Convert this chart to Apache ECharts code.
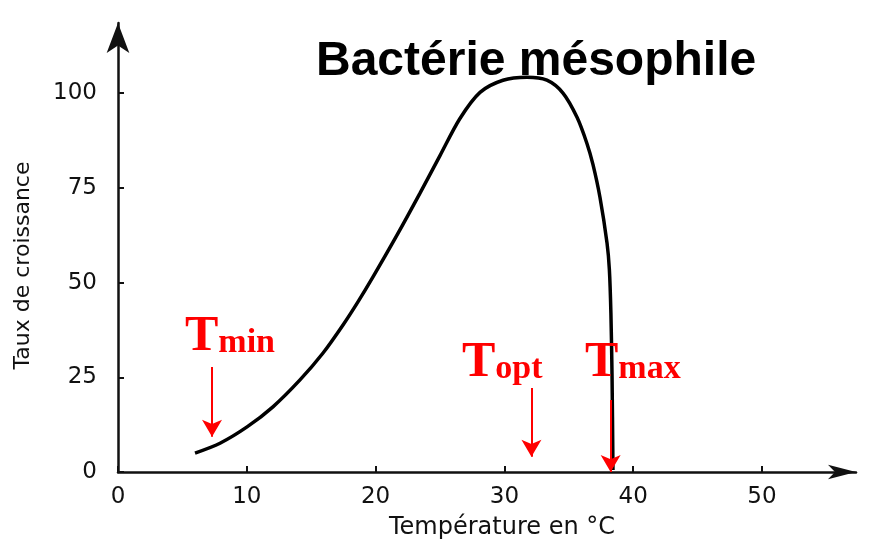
<!DOCTYPE html>
<html>
<head>
<meta charset="utf-8">
<script src="https://cdn.jsdelivr.net/npm/echarts@6/dist/echarts.min.js"></script>
<style>
  html, body { margin: 0; padding: 0; background: #fff; }
  #chart { width: 871px; height: 540px; }
</style>
</head>
<body>
<div id="chart"></div>
<script>
// Growth curve of a mesophilic bacterium versus temperature
const temperature = [5.98, 7.92, 10.02, 12.03, 14.13, 15.92, 17.47, 18.63, 19.8, 21.66, 23.45, 25.0, 26.55, 28.11, 29.89, 31.75, 33.3, 34.55, 35.64, 36.41, 36.88, 37.42, 37.97, 38.15, 38.27, 38.36, 38.43];
const growth      = [5.0, 7.6, 11.9, 17.2, 24.3, 31.4, 38.8, 44.9, 51.5, 62.5, 73.6, 83.5, 93.3, 100.2, 103.4, 104.2, 103.4, 100.0, 93.6, 86.7, 81.1, 72.5, 60.4, 53.5, 42.0, 25.0, 0.5];

const xTicks = [0, 10, 20, 30, 40, 50];
const yTicks = [0, 25, 50, 75, 100];

// Cardinal temperatures: arrow position (x), arrow start and arrow end (growth units)
const cardinalNames = ['min', 'opt', 'max'];
const cardinalX     = [7.3, 32.1, 38.25];
const arrowFrom     = [27.7, 22.2, 19.0];
const arrowTo       = [9.3, 4.0, 0.0];
// Label anchors (bottom-left of each "T" label)
const labelX        = [5.2, 26.7, 36.26];
const labelY        = [29.5, 22.7, 22.7];

const RED = '#ff0000';
const INK = '#111';
const axisFont = 'DejaVu Sans';

const curve = temperature.map((t, i) => [t, growth[i]]);

const arrowLines = cardinalNames.map((n, i) => [
  { coord: [cardinalX[i], arrowFrom[i]] },
  { coord: [cardinalX[i], arrowTo[i]] }
]);

const labelPoints = cardinalNames.map((n, i) => ({ value: [labelX[i], labelY[i]], name: n }));

const chart = echarts.init(document.getElementById('chart'), null, { renderer: 'canvas' });

chart.setOption({
  animation: false,
  backgroundColor: '#fff',
  title: {
    text: 'Bactérie mésophile',
    left: 316,
    top: 38,
    padding: 0,
    textStyle: {
      fontFamily: 'Liberation Sans',
      fontWeight: 'bold',
      fontSize: 48,
      color: '#000'
    }
  },
  grid: { left: 118, right: 15, top: 23, bottom: 68, containLabel: false, outerBoundsMode: 'none' },
  xAxis: {
    type: 'value',
    min: 0,
    max: 57.3,
    interval: 10,
    name: 'Température en °C',
    nameLocation: 'middle',
    nameGap: 44,
    nameTextStyle: { fontFamily: axisFont, fontSize: 24, color: INK, padding: [0, 0, 0, 30] },
    splitLine: { show: false },
    axisLine: {
      show: true,
      symbol: ['none', 'arrow'],
      symbolSize: [11, 28],
      lineStyle: { color: INK, width: 2.5 }
    },
    axisTick: { show: true, inside: true, length: 6, customValues: xTicks, lineStyle: { color: INK, width: 2 } },
    axisLabel: { customValues: xTicks, margin: 14, fontFamily: axisFont, fontSize: 23, color: INK }
  },
  yAxis: {
    type: 'value',
    min: 0,
    max: 118.5,
    interval: 25,
    name: 'Taux de croissance',
    nameLocation: 'middle',
    nameGap: 84,
    nameRotate: 90,
    nameTextStyle: { fontFamily: axisFont, fontSize: 22, color: INK, padding: [0, 36, 0, 0] },
    splitLine: { show: false },
    axisLine: {
      show: true,
      symbol: ['none', 'arrow'],
      symbolSize: [17, 30],
      lineStyle: { color: INK, width: 2.5 }
    },
    axisTick: { show: true, inside: true, length: 6, customValues: yTicks, lineStyle: { color: INK, width: 2 } },
    axisLabel: { customValues: yTicks, margin: 21, fontFamily: axisFont, fontSize: 23, color: INK }
  },
  series: [
    {
      name: 'croissance',
      type: 'line',
      data: curve,
      smooth: 0.3,
      showSymbol: false,
      symbol: 'none',
      lineStyle: { color: '#000', width: 3.5 },
      z: 3
    },
    {
      name: 'flèches',
      type: 'line',
      data: [],
      markLine: {
        silent: true,
        symbol: ['none', 'arrow'],
        symbolSize: [15, 17],
        label: { show: false },
        lineStyle: { color: RED, width: 2, type: 'solid' },
        data: arrowLines
      },
      z: 4
    },
    {
      name: 'températures cardinales',
      type: 'scatter',
      data: labelPoints,
      symbolSize: 0,
      silent: true,
      itemStyle: { opacity: 1 },
      label: {
        show: true,
        position: [0, 0],
        align: 'left',
        verticalAlign: 'bottom',
        formatter: p => '{t|T}{s|' + p.name + '}',
        rich: {
          t: {
            fontFamily: 'Liberation Serif', fontWeight: 'bold', fontSize: 50,
            color: RED, lineHeight: 48, verticalAlign: 'top'
          },
          s: {
            fontFamily: 'Liberation Serif', fontWeight: 'bold', fontSize: 34,
            color: RED, lineHeight: 34, padding: [24, 0, 0, 0], verticalAlign: 'bottom'
          }
        }
      },
      z: 5
    }
  ]
});
</script>
</body>
</html>
